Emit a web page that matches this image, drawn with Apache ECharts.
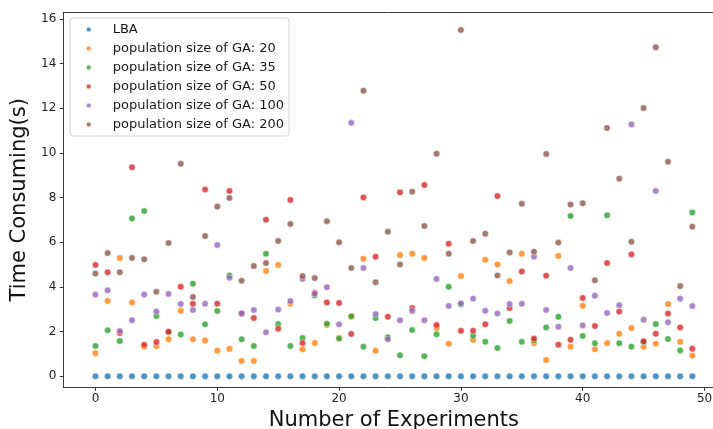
<!DOCTYPE html>
<html>
<head>
<meta charset="utf-8">
<script src="https://cdn.jsdelivr.net/npm/echarts@6/dist/echarts.min.js"></script>
<style>
  html, body { margin: 0; padding: 0; background: #fff; }
  #chart { width: 713px; height: 429px; }
</style>
</head>
<body>
<div id="chart"></div>
<script>
// Experiment numbers (x axis)
const experiments = [
  0, 1, 2, 3, 4, 5, 6, 7, 8, 9, 10, 11, 12, 13, 14, 15, 16, 17, 18, 19,
  20, 21, 22, 23, 24, 25, 26, 27, 28, 29, 30, 31, 32, 33, 34, 35, 36, 37, 38, 39,
  40, 41, 42, 43, 44, 45, 46, 47, 48, 49
];

// Time consumed (s) per experiment
const lba = [
  0, 0, 0, 0, 0, 0, 0, 0, 0, 0, 0, 0, 0, 0, 0, 0, 0, 0, 0, 0,
  0, 0, 0, 0, 0, 0, 0, 0, 0, 0, 0, 0, 0, 0, 0, 0, 0, 0, 0, 0,
  0, 0, 0, 0, 0, 0, 0, 0, 0, 0
];
const ga20 = [
  1.04, 3.37, 5.30, 3.31, 1.33, 1.36, 1.66, 2.94, 1.66, 1.60,
  1.15, 1.24, 0.69, 0.69, 4.72, 4.99, 3.25, 1.21, 1.49, 2.30,
  1.73, 2.67, 5.27, 1.15, 1.72, 5.43, 5.49, 5.30, 2.16, 1.46,
  4.49, 1.63, 5.22, 5.01, 4.27, 5.49, 1.48, 0.73, 5.39, 1.33,
  3.16, 1.21, 1.49, 1.91, 2.16, 1.33, 1.46, 3.24, 1.55, 0.93
];
const ga35 = [
  1.36, 2.06, 1.58, 7.07, 7.40, 2.70, 1.97, 1.87, 4.15, 2.33,
  2.93, 4.52, 1.66, 1.36, 5.49, 2.34, 1.36, 1.72, 3.62, 2.36,
  1.69, 2.69, 1.33, 2.61, 1.75, 0.94, 2.07, 0.90, 1.88, 4.01,
  3.22, 1.82, 1.55, 1.27, 2.48, 1.55, 1.60, 2.19, 2.67, 7.18,
  1.81, 1.48, 7.21, 1.48, 1.33, 1.53, 2.34, 1.67, 1.16, 7.34
];
const ga50 = [
  4.99, 4.66, 1.94, 9.36, 1.42, 1.54, 2.00, 4.01, 3.25, 8.37,
  3.25, 8.30, 2.80, 2.61, 7.01, 2.13, 7.90, 1.49, 3.74, 3.31,
  3.28, 1.90, 8.01, 5.36, 2.67, 8.24, 3.06, 8.57, 2.30, 5.94,
  2.04, 2.04, 2.33, 8.07, 3.06, 4.69, 1.69, 4.51, 1.42, 1.64,
  3.51, 2.25, 5.07, 2.90, 5.46, 1.57, 1.91, 2.81, 2.19, 1.24
];
const ga100 = [
  3.66, 3.85, 2.03, 2.51, 3.66, 2.90, 3.69, 3.24, 2.97, 3.25,
  5.88, 4.41, 2.82, 2.97, 1.97, 2.99, 3.37, 4.36, 3.70, 3.99,
  2.33, 11.35, 4.85, 2.79, 1.66, 2.51, 2.93, 2.51, 4.36, 3.15,
  3.26, 3.48, 2.94, 2.81, 3.24, 3.25, 5.36, 2.97, 2.22, 4.85,
  2.28, 3.61, 2.84, 3.18, 11.28, 2.54, 8.30, 2.42, 3.48, 3.15
];
const ga200 = [
  4.60, 5.52, 4.66, 5.30, 5.24, 3.79, 5.97, 9.52, 3.55, 6.28,
  7.60, 7.99, 4.28, 4.94, 5.07, 6.06, 6.82, 4.49, 4.40, 6.95,
  6.00, 4.85, 12.79, 4.21, 6.48, 5.01, 8.27, 6.73, 9.97, 5.49,
  15.51, 6.06, 6.39, 4.52, 5.55, 7.73, 5.58, 9.96, 5.99, 7.69,
  7.75, 4.30, 11.12, 8.85, 6.03, 12.01, 14.73, 9.61, 4.04, 6.70
];

const seriesNames = [
  'LBA',
  'population size of GA: 20',
  'population size of GA: 35',
  'population size of GA: 50',
  'population size of GA: 100',
  'population size of GA: 200'
];
const seriesValues = [lba, ga20, ga35, ga50, ga100, ga200];
const seriesColors = ['#1f77b4', '#ff7f0e', '#2ca02c', '#d62728', '#9467bd', '#8c564b'];

// Tick labels
const xTicks = [0, 10, 20, 30, 40, 50];
const yTicks = [0, 2, 4, 6, 8, 10, 12, 14, 16];

const FONT = 'DejaVu Sans';
const X_MIN = -2.64, X_MAX = 51.64;
const Y_MIN = -0.49, Y_MAX = 16.3;
const SPINE = { show: true, onZero: false, lineStyle: { color: '#3a3a3a', width: 1 } };

const chart = echarts.init(document.getElementById('chart'), null, { renderer: 'canvas' });

const series = seriesNames.map((name, k) => ({
  name: name,
  type: 'scatter',
  symbol: 'circle',
  symbolSize: 6.5,
  data: experiments.map((x, i) => [x, seriesValues[k][i]]),
  itemStyle: {
    color: seriesColors[k],
    opacity: 0.8,
    borderColor: '#ffffff',
    borderWidth: 0.6
  },
  emphasis: { disabled: true }
}));

chart.setOption({
  animation: false,
  backgroundColor: '#ffffff',
  grid: {
    left: 63.3,
    top: 12.3,
    right: -11.5,
    bottom: 41.7,
    containLabel: false,
    outerBoundsMode: 'none'
  },
  legend: {
    orient: 'vertical',
    left: 70,
    top: 18,
    padding: [2, 5, 2, 14.7],
    itemWidth: 6,
    itemHeight: 6,
    itemGap: 0,
    icon: 'circle',
    backgroundColor: '#ffffff',
    borderColor: '#d4d4d4',
    borderWidth: 1,
    borderRadius: 3,
    textStyle: {
      fontFamily: FONT,
      fontSize: 13,
      color: '#1a1a1a',
      lineHeight: 19,
      padding: [0, 0, 0, 16]
    },
    data: seriesNames
  },
  xAxis: [
    {
      type: 'value',
      position: 'bottom',
      min: X_MIN,
      max: X_MAX,
      name: 'Number of Experiments',
      nameLocation: 'middle',
      nameGap: 20,
      nameTextStyle: { fontFamily: FONT, fontSize: 21, color: '#111' },
      axisLine: SPINE,
      splitLine: { show: false },
      axisTick: {
        show: true,
        customValues: xTicks,
        length: 3.5,
        lineStyle: { color: '#333' }
      },
      axisLabel: {
        customValues: xTicks,
        fontFamily: FONT,
        fontSize: 12,
        color: '#222',
        margin: 6
      }
    },
    {
      // top frame line
      type: 'value',
      position: 'top',
      min: X_MIN,
      max: X_MAX,
      axisLine: SPINE,
      axisTick: { show: false },
      axisLabel: { show: false },
      splitLine: { show: false }
    }
  ],
  yAxis: {
    type: 'value',
    position: 'left',
    min: Y_MIN,
    max: Y_MAX,
    name: 'Time Consuming(s)',
    nameLocation: 'middle',
    nameGap: 29,
    nameRotate: 90,
    nameTextStyle: { fontFamily: FONT, fontSize: 21, color: '#111' },
    axisLine: SPINE,
    splitLine: { show: false },
    axisTick: {
      show: true,
      customValues: yTicks,
      length: 3.5,
      lineStyle: { color: '#333' }
    },
    axisLabel: {
      customValues: yTicks,
      fontFamily: FONT,
      fontSize: 12,
      color: '#222',
      margin: 7
    }
  },
  series: series
});
</script>
</body>
</html>
